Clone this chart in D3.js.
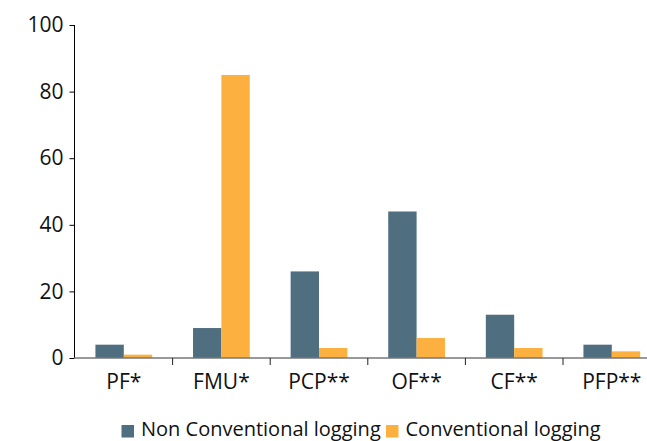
<!DOCTYPE html>
<html><head><meta charset="utf-8">
<script src="https://cdn.jsdelivr.net/npm/d3@7/dist/d3.min.js"></script>
<style>body{margin:0;background:#fff}svg{display:block}text{font-family:"Open Sans",sans-serif;fill:#111}</style>
</head><body><svg id="c" width="647" height="441"></svg>
<script>
const categories = ["PF*","FMU*","PCP**","OF**","CF**","PFP**"];
const nonConventional = [4, 9, 26, 44, 13, 4];
const conventional = [1, 85, 3, 6, 3, 2];
const seriesNames = ["Non Conventional logging","Conventional logging"];
const yTicks = [0,20,40,60,80,100];
const colors = ["#4f6f80","#fbb040"];

const svg = d3.select("#c");
const x = d3.scaleBand().domain(categories).range([75, 660.6]).paddingInner(0).paddingOuter(0);
const y = d3.scaleLinear().domain([0,100]).range([358, 25]);
const sub = d3.scaleBand().domain([0,1]).range([0, x.bandwidth()]).paddingInner(0).paddingOuter(0.72);

const data = categories.map((c,i)=>({c, v:[nonConventional[i], conventional[i]]}));
const g = svg.append("g");
g.selectAll("g.cat").data(data).join("g").attr("transform",d=>`translate(${x(d.c)},0)`)
 .selectAll("rect").data(d=>d.v.map((v,k)=>({v,k}))).join("rect")
 .attr("x",d=>sub(d.k)).attr("width",sub.bandwidth())
 .attr("y",d=>y(d.v)).attr("height",d=>y(0)-y(d.v)).attr("fill",d=>colors[d.k]);

// y axis
const ya = svg.append("g").attr("transform","translate(74.5,0)")
 .call(d3.axisLeft(y).tickValues(yTicks).tickSize(5).tickPadding(6));
ya.select(".domain").attr("stroke","#000").attr("d",`M-0,${y(100)}V${y(0)}`);
ya.selectAll(".tick line").attr("stroke","#000");
ya.selectAll(".tick text").style("font-size","21px").attr("fill","#111");

// x axis
const xa = svg.append("g").attr("transform",`translate(0,${y(0)})`)
 .call(d3.axisBottom(x).tickSize(0).tickPadding(16));
xa.select(".domain").attr("stroke","#777").attr("stroke-width",1.5).attr("d","M74.5,0H647");
xa.selectAll(".tick text").style("font-size","21px").attr("fill","#111");
xa.selectAll("line.sep").data(categories.slice(1)).join("line").attr("class","sep")
 .attr("x1",d=>x(d)).attr("x2",d=>x(d)).attr("y1",0).attr("y2",7).attr("stroke","#222");

// legend
const leg = svg.append("g").attr("transform","translate(121.5,436)");
const lx = [0, 264.5];
seriesNames.forEach((n,i)=>{
  leg.append("rect").attr("x",lx[i]).attr("y",-11).attr("width",12.5).attr("height",12.5).attr("fill",colors[i]);
  leg.append("text").attr("x",lx[i]+19.5).attr("y",0).style("font-size","20px").text(n);
});
</script></body></html>
